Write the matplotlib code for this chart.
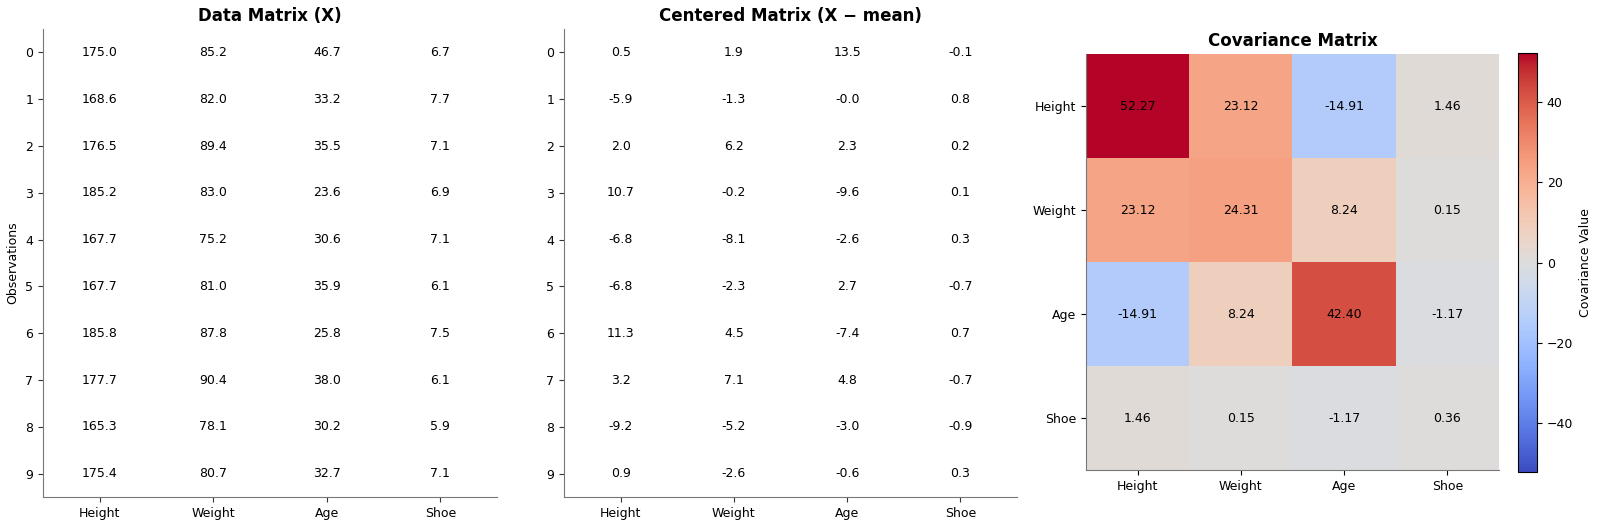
import numpy as np
import matplotlib
matplotlib.use("Agg")
import matplotlib.pyplot as plt

features = ["Height", "Weight", "Age", "Shoe"]
observations = list(range(10))

height = [175.0, 168.6, 176.5, 185.2, 167.7, 167.7, 185.8, 177.7, 165.3, 175.4]
weight = [85.2, 82.0, 89.4, 83.0, 75.2, 81.0, 87.8, 90.4, 78.1, 80.7]
age = [46.7, 33.2, 35.5, 23.6, 30.6, 35.9, 25.8, 38.0, 30.2, 32.7]
shoe = [6.7, 7.7, 7.1, 6.9, 7.1, 6.1, 7.5, 6.1, 5.9, 7.1]

c_height = [0.5, -5.9, 2.0, 10.7, -6.8, -6.8, 11.3, 3.2, -9.2, 0.9]
c_weight = [1.9, -1.3, 6.2, -0.2, -8.1, -2.3, 4.5, 7.1, -5.2, -2.6]
c_age = [13.5, -0.0, 2.3, -9.6, -2.6, 2.7, -7.4, 4.8, -3.0, -0.6]
c_shoe = [-0.1, 0.8, 0.2, 0.1, 0.3, -0.7, 0.7, -0.7, -0.9, 0.3]

cov = [
    [52.27, 23.12, -14.91, 1.46],
    [23.12, 24.31, 8.24, 0.15],
    [-14.91, 8.24, 42.40, -1.17],
    [1.46, 0.15, -1.17, 0.36],
]

X = np.column_stack([height, weight, age, shoe])
Xc = np.column_stack([c_height, c_weight, c_age, c_shoe])
C = np.array(cov)

W, H = 1600, 527
fig = plt.figure(figsize=(16, 5.27), dpi=100)


def box(l, b, w, h):
    return [l / W, (H - b) / H, w / W, h / H]


def text_matrix(ax, M, title, ylabel=None):
    n, m = M.shape
    for i in range(n):
        for j in range(m):
            ax.text(j, i, f"{M[i, j]:.1f}", ha="center", va="center", fontsize=9)
    ax.set_xlim(-0.5, m - 0.5)
    ax.set_ylim(n - 0.5, -0.5)
    ax.set_xticks(range(m))
    ax.set_xticklabels(features, fontsize=9)
    ax.set_yticks(range(n))
    ax.set_yticklabels([str(o) for o in observations], fontsize=9)
    ax.set_title(title, fontsize=12, fontweight="bold")
    if ylabel:
        ax.set_ylabel(ylabel, fontsize=9)
    for s in ["top", "right"]:
        ax.spines[s].set_visible(False)
    for s in ["left", "bottom"]:
        ax.spines[s].set_color("#777777")
    ax.tick_params(colors="#333333", labelcolor="black")


ax1 = fig.add_axes(box(43, 497, 454, 468))
text_matrix(ax1, X, "Data Matrix (X)", "Observations")

ax2 = fig.add_axes(box(564, 497, 453, 468))
text_matrix(ax2, Xc, "Centered Matrix (X \u2212 mean)")

ax3 = fig.add_axes(box(1086, 470, 413, 416))
vmax = np.abs(C).max()
im = ax3.imshow(C, cmap="coolwarm", vmin=-vmax, vmax=vmax, aspect="auto")
for i in range(4):
    for j in range(4):
        ax3.text(j, i, f"{C[i, j]:.2f}", ha="center", va="center", fontsize=9)
ax3.set_xticks(range(4))
ax3.set_xticklabels(features, fontsize=9)
ax3.set_yticks(range(4))
ax3.set_yticklabels(features, fontsize=9)
ax3.set_title("Covariance Matrix", fontsize=12, fontweight="bold")
for s in ["top", "right"]:
    ax3.spines[s].set_visible(False)
for s in ["left", "bottom"]:
    ax3.spines[s].set_color("#777777")

cax = fig.add_axes(box(1518, 472, 19, 419))
cb = fig.colorbar(im, cax=cax)
cb.set_label("Covariance Value", fontsize=9)
cb.ax.tick_params(labelsize=9)

fig.savefig("out.png", dpi=100)
